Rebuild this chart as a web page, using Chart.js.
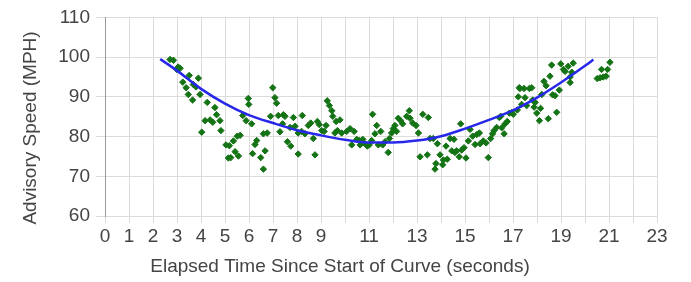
<!DOCTYPE html>
<html>
<head>
<meta charset="utf-8">
<script src="https://cdn.jsdelivr.net/npm/chart.js@4/dist/chart.umd.min.js"></script>
<style>
  html, body { margin: 0; padding: 0; background: #fff; }
  #wrap { width: 691px; height: 282px; }
</style>
</head>
<body>
<div id="wrap"><canvas id="speedChart" width="691" height="282"></canvas></div>
<script>
// Observed advisory speeds (elapsed seconds, MPH)
const obsTime = [
    2.71, 2.85, 3.05, 2.99, 3.13, 3.51, 3.89, 3.24, 3.38, 3.68, 3.79, 3.47, 3.96, 3.65, 4.26, 4.58, 4.65, 4.17, 4.38, 4.49,
    4.79, 4.83, 4.03, 5.04, 5.18, 5.35, 5.51, 5.63, 5.42, 5.56, 5.14, 5.24, 5.74, 5.88, 5.97, 5.99,
    6.11, 6.32, 6.25, 6.15, 6.49, 6.67, 6.6, 6.6, 6.76, 6.9, 6.99, 7.08, 7.15, 7.22, 7.43, 7.5, 7.4, 7.29, 7.6, 7.74,
    7.85, 7.71, 7.92, 8.22, 8.05, 8.19, 8.33, 8.05, 8.47, 8.57, 8.68, 8.75, 8.85, 8.93, 9.03, 9.13, 9.21, 9.26, 9.35, 9.45,
    9.49, 9.63, 9.68, 9.58,
    9.79, 9.86, 10.07, 10.21, 10.38, 10.28, 10.49, 10.6, 10.63, 10.74, 10.83, 10.93, 11.01, 11.11, 11.15, 11.32, 11.25, 11.49,
    11.39, 11.57, 11.67, 11.8, 11.85, 11.94, 12.01, 12.08, 12.15, 12.22, 12.32, 12.4, 12.57, 12.68, 12.71, 12.82, 12.96, 13.06,
    13.24, 13.47, 13.13, 13.43,
    13.54, 13.68, 13.85, 14.21, 14.38, 14.54, 14.82, 13.96, 13.79, 13.75, 14.1, 14.26, 14.07, 14.45, 14.58, 14.65, 14.76, 14.86,
    14.96, 15.04, 15.14, 15.21, 15.32, 15.42, 15.49, 15.6, 15.63, 15.76, 15.88, 15.97, 16.07, 16.15, 16.21, 16.32, 16.43, 16.49,
    16.53, 16.63, 16.67, 16.76, 16.85, 16.95, 17.01, 17.18, 17.26, 17.22,
    17.29, 17.46, 17.5, 17.68, 17.78, 17.36, 17.57, 17.82, 17.92, 17.88, 17.99, 18.1, 18.15, 18.2, 18.29, 18.38, 18.54, 18.47,
    18.65, 18.75, 18.82, 18.93, 18.61, 18.99, 19.1, 19.17, 19.3, 19.51, 19.38, 19.45, 19.38,
    20.51, 20.69, 20.76, 20.88, 20.94, 21.04, 20.63
];
const obsSpeed = [
    99.4, 99.2, 97.5, 96.9, 97.2, 95.4, 94.7, 93.7, 92.3, 93.1, 92.5, 90.6, 90.6, 89.2, 88.6, 87.3, 85.5, 84.0, 84.2, 83.6,
    84.0, 81.5, 81.1, 77.9, 77.7, 78.9, 80.1, 80.3, 76.2, 75.1, 74.6, 74.7, 85.3, 84.0, 89.6, 88.1,
    83.2, 79.0, 78.0, 75.7, 74.7, 76.4, 71.8, 80.7, 80.9, 85.1, 92.3, 89.8, 88.4, 85.3, 85.5, 85.1, 83.2, 81.2, 78.7, 77.6,
    84.8, 82.3, 82.6, 85.3, 80.9, 81.3, 80.7, 75.6, 82.8, 83.4, 79.5, 75.4, 83.8, 83.0, 81.5, 81.3, 82.8, 89.0, 87.8, 86.5,
    85.1, 83.8, 81.5, 80.9,
    84.2, 80.9, 81.3, 82.0, 81.3, 77.9, 79.3, 79.0, 77.9, 79.3, 78.2, 77.6, 77.9, 79.0, 85.6, 82.8, 80.7, 81.3,
    77.9, 77.9, 78.7, 76.0, 79.5, 80.9, 82.0, 82.8, 81.3, 84.6, 84.0, 83.2, 85.1, 86.5, 84.6, 83.4, 82.8, 80.9,
    85.6, 84.8, 74.9, 75.4,
    79.5, 79.5, 78.2, 77.6, 79.5, 79.3, 83.2, 75.4, 73.2, 71.8, 74.1, 74.3, 72.9, 76.4, 76.0, 76.4, 74.9, 76.6,
    77.2, 74.6, 78.9, 81.8, 80.1, 78.0, 80.5, 80.9, 78.2, 78.9, 78.4, 74.7, 79.5, 80.7, 81.5, 82.3, 84.8, 85.1,
    82.2, 80.7, 83.2, 83.8, 85.9, 86.1, 85.6, 86.7, 92.3, 90.0,
    92.1, 92.1, 89.8, 92.1, 92.3, 88.1, 87.8, 89.2, 88.6, 87.4, 85.9, 84.0, 87.1, 90.6, 93.9, 92.8, 95.2, 84.5,
    90.5, 90.3, 86.1, 91.7, 98.0, 98.3, 96.9, 96.4, 97.7, 98.5, 95.0, 96.2, 93.6,
    94.6, 96.9, 95.0, 95.2, 96.9, 98.7, 94.8
];

// Fitted trend curve
const fitTime = [2.3, 3, 4, 5, 6, 7, 8, 9, 10, 11, 12, 13, 14, 15, 16, 17, 18, 19, 20, 20.35];
const fitSpeed = [99.5, 96.6, 92.0, 88.3, 85.4, 83.4, 81.6, 80.3, 79.2, 78.5, 78.5, 79.0, 80.1, 82.0, 84.2, 86.6, 89.8, 93.6, 97.8, 99.4];

// Axis settings
const xMin = 0, xMax = 23;
const yMin = 60, yMax = 110, yStep = 10;
const xTitle = 'Elapsed Time Since Start of Curve (seconds)';
const yTitle = 'Advisory Speed (MPH)';

const textColor = '#444';
const gridColor = '#dcdcdc';
const fontFamily = '"Liberation Sans", Arial, sans-serif';
const fontSize = 19;

const obsPoints = obsTime.map((t, i) => ({ x: t, y: obsSpeed[i] }));
const fitPoints = fitTime.map((t, i) => ({ x: t, y: fitSpeed[i] }));

// axis titles are centred on the whole picture rather than the plot area
const axisTitles = {
    id: 'axisTitles',
    afterDraw(chart) {
        const c = chart.ctx;
        c.save();
        c.fillStyle = textColor;
        c.font = fontSize + 'px ' + fontFamily;
        c.textAlign = 'center';
        c.textBaseline = 'middle';
        c.fillText(xTitle, 340, 267);
        c.translate(31, 128);
        c.rotate(-Math.PI / 2);
        c.fillText(yTitle, 0, 0);
        c.restore();
    }
};

const ctx = document.getElementById('speedChart').getContext('2d');
const speedChart = new Chart(ctx, {
    type: 'scatter',
    data: {
        datasets: [
            {
                type: 'line',
                label: 'Fit',
                data: fitPoints,
                borderColor: 'rgb(40, 40, 235)',
                borderWidth: 2.5,
                pointRadius: 0,
                cubicInterpolationMode: 'monotone',
                fill: false
            },
            {
                label: 'Advisory Speed',
                data: obsPoints,
                pointStyle: 'rectRot',
                pointRadius: 3.2,
                backgroundColor: 'rgb(20, 115, 20)',
                borderColor: 'rgb(20, 115, 20)',
                borderWidth: 1
            }
        ]
    },
    options: {
        responsive: false,
        animation: false,
        layout: { padding: { left: 0, right: 34, top: 15, bottom: 0 } },
        plugins: {
            legend: { display: false },
            tooltip: { enabled: false }
        },
        scales: {
            x: {
                type: 'linear',
                min: xMin,
                max: xMax,
                afterFit: (scale) => { scale.height = 66; },
                grid: { color: gridColor, tickLength: 7 },
                border: { color: gridColor },
                ticks: {
                    stepSize: 1,
                    autoSkip: false,
                    maxRotation: 0,
                    padding: 2,
                    color: textColor,
                    font: { family: fontFamily, size: fontSize },
                    callback: (v) => (v <= 9 || v % 2 === 1) ? String(v) : ''
                }
            },
            y: {
                min: yMin,
                max: yMax,
                afterFit: (scale) => { scale.width = 105; },
                grid: { color: gridColor, tickLength: 9 },
                border: { color: '#999' },
                ticks: {
                    stepSize: yStep,
                    padding: 6,
                    color: textColor,
                    font: { family: fontFamily, size: fontSize }
                }
            }
        }
    },
    plugins: [axisTitles]
});
</script>
</body>
</html>
